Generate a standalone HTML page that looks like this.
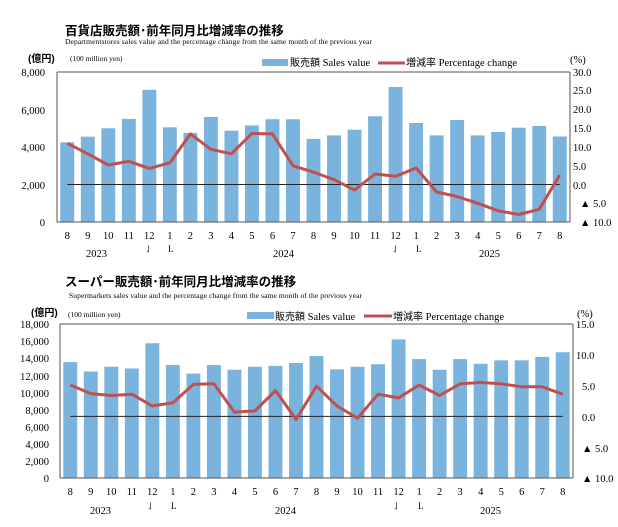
<!DOCTYPE html>
<html><head><meta charset="utf-8"><style>
html,body{margin:0;padding:0;background:#fff}
svg{display:block}
text{font-family:"Liberation Serif","Noto Serif CJK SC",serif;fill:#000}
.t{font-family:"Liberation Sans","Noto Sans CJK JP",sans-serif;font-weight:bold;font-size:12.5px}
.s{font-size:7.5px}
.a{font-size:10.5px}
.m{font-size:10.5px;text-anchor:middle}
.l{font-size:10.5px;text-anchor:end}
.j{font-family:"Liberation Sans","Noto Sans CJK JP",sans-serif}
</style></head><body>
<svg id="c" width="618" height="527" viewBox="0 0 618 527">
<!-- Chart 1 -->
<text class="t" x="65" y="35">百貨店販売額･前年同月比増減率の推移</text>
<text class="s" x="65" y="44" textLength="307">Departmentstores sales value and the percentage change from the same month of the previous year</text>
<text class="a j" x="28" y="62" style="font-size:10px;font-weight:bold">(億円)</text>
<text class="s" x="70" y="61">(100 million yen)</text>
<rect x="262" y="59" width="26" height="7" fill="#7ab4de"/>
<text class="a" x="290" y="66"><tspan class="j" style="font-size:10px">販売額</tspan> Sales value</text>
<line x1="378" y1="63" x2="405" y2="63" stroke="#c0504d" stroke-width="3"/>
<text class="a" x="406" y="66"><tspan class="j" style="font-size:10px">増減率</tspan> Percentage change</text>
<text class="a" x="570" y="63">(%)</text>
<g class="l"><text x="45" y="76">8,000</text><text x="45" y="114">6,000</text><text x="45" y="151">4,000</text><text x="45" y="189">2,000</text><text x="45" y="226">0</text></g>
<g class="a"><text x="573" y="76">30.0</text><text x="573" y="94">25.0</text><text x="573" y="113">20.0</text><text x="573" y="132">15.0</text><text x="573" y="151">10.0</text><text x="573" y="170">5.0</text><text x="573" y="189">0.0</text><text x="580" y="207">▲ 5.0</text><text x="580" y="226">▲ 10.0</text></g>
<g id="b1"></g>
<g class="m" id="m1" transform="translate(0,239)"></g>
<g class="a"><text x="86" y="257">2023</text><text x="273" y="257">2024</text><text x="479" y="257">2025</text>
<text x="146" y="252" style="font-size:9px">˩</text><text x="168" y="252" style="font-size:9px">L</text>
<text x="393" y="252" style="font-size:9px">˩</text><text x="416" y="252" style="font-size:9px">L</text></g>
<!-- Chart 2 -->
<text class="t" x="65" y="286">スーパー販売額･前年同月比増減率の推移</text>
<text class="s" x="69" y="298" textLength="293">Supermarkets sales value and the percentage change from the same month of the previous year</text>
<text class="a j" x="31" y="316" style="font-size:10px;font-weight:bold">(億円)</text>
<text class="s" x="68" y="317">(100 million yen)</text>
<rect x="247" y="312" width="27" height="7" fill="#7ab4de"/>
<text class="a" x="275" y="320"><tspan class="j" style="font-size:10px">販売額</tspan> Sales value</text>
<line x1="364" y1="316" x2="392" y2="316" stroke="#c0504d" stroke-width="3"/>
<text class="a" x="393" y="320"><tspan class="j" style="font-size:10px">増減率</tspan> Percentage change</text>
<text class="a" x="577" y="317">(%)</text>
<g class="a"><text x="576" y="328">15.0</text><text x="576" y="359">10.0</text><text x="582" y="390">5.0</text><text x="582" y="421">0.0</text><text x="582" y="452">▲ 5.0</text><text x="582" y="482">▲ 10.0</text></g>
<g id="b2"></g>
<g class="m" id="m2" transform="translate(3,495)"></g>
<g class="a"><text x="90" y="514">2023</text><text x="275" y="514">2024</text><text x="480" y="514">2025</text>
<text x="148" y="509" style="font-size:9px">˩</text><text x="171" y="509" style="font-size:9px">L</text>
<text x="394" y="509" style="font-size:9px">˩</text><text x="418" y="509" style="font-size:9px">L</text></g>
<g class="m" id="mm" style="display:none">
<text x="67.3">8</text><text x="87.8">9</text><text x="108.3">10</text><text x="128.8">11</text><text x="149.3">12</text><text x="169.9">1</text><text x="190.4">2</text><text x="210.9">3</text><text x="231.4">4</text><text x="251.9">5</text><text x="272.5">6</text><text x="293">7</text><text x="313.5">8</text><text x="334">9</text><text x="354.5">10</text><text x="375.1">11</text><text x="395.6">12</text><text x="416.1">1</text><text x="436.6">2</text><text x="457.1">3</text><text x="477.7">4</text><text x="498.2">5</text><text x="518.7">6</text><text x="539.2">7</text><text x="559.7">8</text>
</g>
<g class="l"><text x="49" y="328">18,000</text><text x="49" y="345">16,000</text><text x="49" y="362">14,000</text><text x="49" y="380">12,000</text><text x="49" y="397">10,000</text><text x="49" y="414">8,000</text><text x="49" y="431">6,000</text><text x="49" y="448">4,000</text><text x="49" y="465">2,000</text><text x="49" y="482">0</text></g>
</svg>
<script>
var NS="http://www.w3.org/2000/svg";
function el(p,n,a){var e=document.createElementNS(NS,n);for(var k in a)e.setAttribute(k,a[k]);p.appendChild(e);return e;}
var mm=document.getElementById('mm');
document.getElementById('m1').innerHTML=mm.innerHTML;
document.getElementById('m2').innerHTML=mm.innerHTML;
function chart(g,L,R,T,B,maxV,pt,pb,sales,pct){
  g=document.getElementById(g);
  var w=(R-L)/25,h=B-T;
  var z=T+pt/(pt-pb)*h;
  sales.forEach(function(v,i){var y=B-v/maxV*h;el(g,'rect',{x:L+i*w+3.3,y:y,width:w-6.6,height:B-y,fill:'#7ab4de'});});
  el(g,'line',{x1:L,y1:T,x2:L,y2:B,stroke:'#555','stroke-width':1});
  el(g,'line',{x1:R,y1:T,x2:R,y2:B,stroke:'#555','stroke-width':1});
  el(g,'line',{x1:L,y1:B,x2:R,y2:B,stroke:'#555','stroke-width':1});
  el(g,'line',{x1:L,y1:T,x2:R,y2:T,stroke:'#555','stroke-width':1});
  el(g,'line',{x1:L+w/2,y1:z,x2:R-w/2,y2:z,stroke:'#222','stroke-width':1});
  var p=pct.map(function(v,i){return (L+(i+0.5)*w).toFixed(1)+','+(T+(pt-v)/(pt-pb)*h).toFixed(1);}).join(' ');
  el(g,'polyline',{points:p,fill:'none',stroke:'#c0504d','stroke-width':3,'stroke-linejoin':'round'});
}
chart('b1',57,570,72,222,8000,30,-10,
[4250,4550,5000,5500,7050,5050,4750,5600,4870,5150,5480,5480,4430,4620,4920,5640,7200,5280,4620,5440,4620,4800,5030,5120,4560],
[11.0,8.2,5.2,6.2,4.3,5.8,13.5,9.4,8.2,13.6,13.5,5.0,3.3,1.3,-1.5,2.8,2.2,4.4,-2.0,-3.2,-5.0,-7.0,-8.0,-6.6,2.5]);
chart('b2',60,573,324,478,18000,15,-10,
[13550,12450,13000,12800,15750,13200,12200,13200,12650,13000,13100,13450,14250,12700,13000,13300,16200,13900,12650,13900,13350,13750,13750,14150,14700],
[5.1,3.7,3.4,3.6,1.7,2.2,5.2,5.3,0.7,0.9,4.2,-0.5,4.9,1.7,-0.3,3.6,3.0,5.1,3.4,5.3,5.5,5.3,4.8,4.8,3.6]);
</script>
</body></html>
